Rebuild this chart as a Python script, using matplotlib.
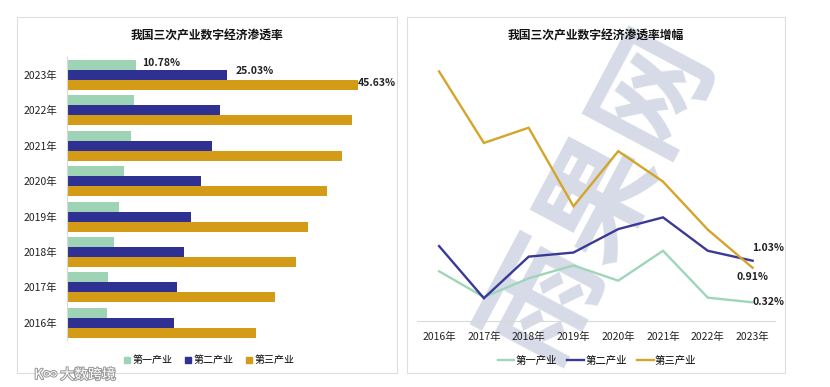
import matplotlib.pyplot as plt
import matplotlib.patheffects as pe
from matplotlib.patches import Rectangle
from matplotlib.lines import Line2D
import numpy as np

plt.rcParams['font.family'] = ['Noto Sans CJK SC', 'DejaVu Sans']

years = ['2016年', '2017年', '2018年', '2019年', '2020年', '2021年', '2022年', '2023年']
series = ['第一产业', '第二产业', '第三产业']

# 渗透率 (%)
primary = [6.2, 6.5, 7.3, 8.2, 8.9, 10.0, 10.5, 10.78]
secondary = [16.8, 17.2, 18.3, 19.5, 21.0, 22.8, 24.0, 25.03]
tertiary = [29.6, 32.6, 35.9, 37.8, 40.7, 43.1, 44.7, 45.63]

# 增幅 (百分点)
primary_inc = [0.85, 0.41, 0.73, 0.95, 0.69, 1.20, 0.40, 0.32]
secondary_inc = [1.28, 0.39, 1.10, 1.17, 1.57, 1.77, 1.20, 1.03]
tertiary_inc = [4.26, 3.04, 3.30, 1.96, 2.90, 2.38, 1.56, 0.91]

bar_colors = ['#9ed3b6', '#2f3192', '#d49b17']
line_colors = ['#9fd6b9', '#3a3a96', '#d4a52a']

fig = plt.figure(figsize=(8.3, 3.87), dpi=100)

# watermark behind everything
fig.text(600 / 830, 1 - 196 / 387, '雨果网', rotation=62, ha='center', va='center',
         fontsize=85, fontweight='bold', color='#c9cfdf', alpha=0.75, zorder=-5)

# panel frames
for x0, x1 in [(17, 397), (407, 785)]:
    fig.patches.append(Rectangle((x0 / 830, 1 - 373 / 387), (x1 - x0) / 830, (373 - 17) / 387,
                                 transform=fig.transFigure, fill=False,
                                 edgecolor='#dedede', lw=0.8))

# ---- left: bars
ax1 = fig.add_axes([67 / 830, 1 - 340.4 / 387, 319 / 830, 283.1 / 387])
ax1.patch.set_alpha(0)
y = np.arange(len(years))
h = 0.283
vals = [primary, secondary, tertiary]
for k, v in enumerate(vals):
    ax1.barh(y + h * (1 - k), v, height=h, color=bar_colors[k], label=series[k])
ax1.set_xlim(0, 50)
ax1.set_ylim(-0.5, 7.5)
ax1.set_yticks(y)
ax1.set_yticklabels(years, fontsize=7.5, color='#222222')
ax1.tick_params(axis='y', length=0, pad=7)
ax1.set_xticks([])
for s in ['top', 'right', 'bottom']:
    ax1.spines[s].set_visible(False)
ax1.spines['left'].set_color('#d9d9d9')
ax1.spines['left'].set_linewidth(0.8)
offs = [(6, 2), (9, 4), (0, 2)]
for k, v in enumerate(vals):
    ax1.annotate(f'{v[-1]:.2f}%', (v[-1], y[-1] + h * (1 - k)), xytext=offs[k],
                 textcoords='offset pixels', ha='left', va='center',
                 fontsize=7.5, fontweight='bold', color='#222222')
fig.text(207 / 830, 1 - 36 / 387, '我国三次产业数字经济渗透率', ha='center', va='center',
         fontsize=8.5, fontweight='bold', color='#111111')
handles1 = [Line2D([], [], marker='s', ls='none', color=c, markersize=5) for c in bar_colors]
fig.legend(handles1, series, loc='center', bbox_to_anchor=(209 / 830, 1 - 360 / 387),
           ncol=3, frameon=False, fontsize=7.2, handlelength=0.7, handletextpad=0.3,
           columnspacing=1.1)

# ---- right: lines
ax2 = fig.add_axes([416.7 / 830, 1 - 321.1 / 387, 358.3 / 830, 263.7 / 387])
ax2.patch.set_alpha(0)
x = np.arange(len(years))
incs = [primary_inc, secondary_inc, tertiary_inc]
for k, v in enumerate(incs):
    ax2.plot(x, v, color=line_colors[k], lw=1.7, label=series[k], solid_joinstyle='miter')
ax2.set_xlim(-0.5, 7.5)
ax2.set_ylim(0, 4.5)
ax2.set_xticks(x)
ax2.set_xticklabels(years, fontsize=7.5, color='#222222')
ax2.tick_params(axis='x', length=0, pad=8)
ax2.set_yticks([])
for s in ['top', 'right', 'left']:
    ax2.spines[s].set_visible(False)
ax2.spines['bottom'].set_color('#d9d9d9')
ax2.spines['bottom'].set_linewidth(0.8)
loffs = [(0, 0, 'left', 'center'), (0, 13, 'left', 'center'), (0, -9, 'center', 'center')]
for k, v in enumerate(incs):
    dx, dy, ha, va = loffs[k]
    ax2.annotate(f'{v[-1]:.2f}%', (x[-1], v[-1]), xytext=(dx, dy), textcoords='offset pixels',
                 ha=ha, va=va, fontsize=7.5, fontweight='bold', color='#222222')
fig.text(596 / 830, 1 - 36 / 387, '我国三次产业数字经济渗透率增幅', ha='center', va='center',
         fontsize=8.5, fontweight='bold', color='#111111')
handles2 = [Line2D([], [], color=c, lw=1.7) for c in line_colors]
fig.legend(handles2, series, loc='center', bbox_to_anchor=(597 / 830, 1 - 360.7 / 387),
           ncol=3, frameon=False, fontsize=7.5, handlelength=1.6, handletextpad=0.1,
           columnspacing=1.0)

fig.text(75 / 830, 1 - 375 / 387, 'K∞ 大数跨境', ha='center', va='center', fontsize=10,
         color='white', path_effects=[pe.withStroke(linewidth=1.5, foreground='#9a9a9a')])

fig.savefig('out.png', dpi=100)
